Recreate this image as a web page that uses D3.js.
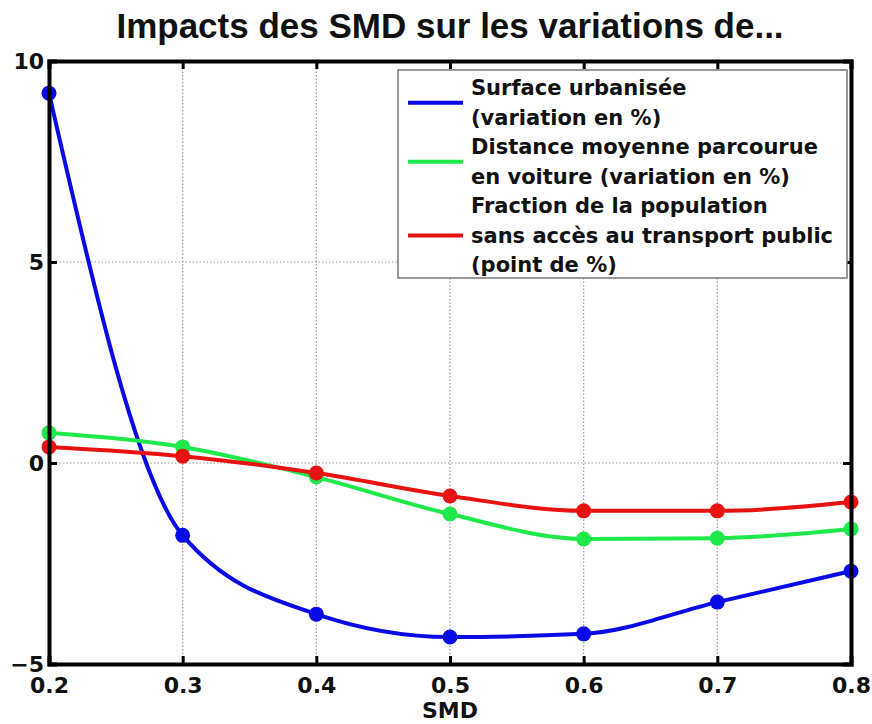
<!DOCTYPE html>
<html>
<head>
<meta charset="utf-8">
<script src="https://cdn.jsdelivr.net/npm/d3@7"></script>
<style>
  body { margin: 0; background: #fff; }
  text { font-family: "DejaVu Sans", sans-serif; font-weight: bold; }
</style>
</head>
<body>
<script>
// chart dimensions
var svgWidth = 872;
var svgHeight = 724;

var margin = { top: 61, right: 21, bottom: 60, left: 49 };
var chartWidth = svgWidth - margin.left - margin.right;
var chartHeight = svgHeight - margin.top - margin.bottom;

// data
var smd = [0.2, 0.3, 0.4, 0.5, 0.6, 0.7, 0.8];
var surface = [9.2, -1.8, -3.76, -4.33, -4.25, -3.46, -2.69];
var distance = [0.75, 0.4, -0.35, -1.27, -1.89, -1.87, -1.64];
var fraction = [0.4, 0.17, -0.25, -0.82, -1.19, -1.19, -0.97];
var xTicks = [0.2, 0.3, 0.4, 0.5, 0.6, 0.7, 0.8];
var yTicks = [-5, 0, 5, 10];
var seriesNames = [
  ["Surface urbanisée", "(variation en %)"],
  ["Distance moyenne parcourue", "en voiture (variation en %)"],
  ["Fraction de la population", "sans accès au transport public", "(point de %)"]
];
var colors = ["#0a0ae6", "#1ee84a", "#e81212"];

var svg = d3.select("body")
  .append("svg")
  .attr("width", svgWidth)
  .attr("height", svgHeight);

var chartGroup = svg.append("g")
  .attr("transform", `translate(${margin.left}, ${margin.top})`);

var x = d3.scaleLinear().domain([0.2, 0.8]).range([0, chartWidth]);
var y = d3.scaleLinear().domain([-5, 10]).range([chartHeight, 0]);

// grid (dotted)
chartGroup.append("g")
  .selectAll("line")
  .data(xTicks.slice(1, -1))
  .enter()
  .append("line")
  .attr("x1", d => x(d)).attr("x2", d => x(d))
  .attr("y1", 0).attr("y2", chartHeight)
  .attr("stroke", "#999")
  .attr("stroke-width", 1.2)
  .attr("stroke-dasharray", "1.5,2");

chartGroup.append("g")
  .selectAll("line")
  .data(yTicks.slice(1, -1))
  .enter()
  .append("line")
  .attr("y1", d => y(d)).attr("y2", d => y(d))
  .attr("x1", 0).attr("x2", chartWidth)
  .attr("stroke", "#999")
  .attr("stroke-width", 1.2)
  .attr("stroke-dasharray", "1.5,2");

// lines + markers
var allSeries = [surface, distance, fraction];
var line = d3.line()
  .x((d, i) => x(smd[i]))
  .y(d => y(d))
  .curve(d3.curveMonotoneX);

allSeries.forEach(function(values, k) {
  chartGroup.append("path")
    .datum(values)
    .attr("d", line)
    .attr("fill", "none")
    .attr("stroke", colors[k])
    .attr("stroke-width", 4);

  chartGroup.selectAll(".dot" + k)
    .data(values)
    .enter()
    .append("circle")
    .attr("cx", (d, i) => x(smd[i]))
    .attr("cy", d => y(d))
    .attr("r", 7.5)
    .attr("fill", colors[k]);
});

// axes (MATLAB style box with inward ticks)
var bottomAxis = d3.axisBottom(x).tickValues(xTicks).tickSize(-8).tickPadding(13).tickFormat(d3.format(".1f"));
var leftAxis = d3.axisLeft(y).tickValues(yTicks).tickSize(-8).tickPadding(5);
var topAxis = d3.axisTop(x).tickValues(xTicks).tickSize(-8).tickFormat("");
var rightAxis = d3.axisRight(y).tickValues(yTicks).tickSize(-8).tickFormat("");

var xAxis = chartGroup.append("g")
  .attr("transform", `translate(0, ${chartHeight})`)
  .call(bottomAxis);
var yAxis = chartGroup.append("g").call(leftAxis);
chartGroup.append("g").call(topAxis);
chartGroup.append("g").attr("transform", `translate(${chartWidth}, 0)`).call(rightAxis);

chartGroup.selectAll(".domain").attr("stroke", "#000").attr("stroke-width", 4);
chartGroup.selectAll(".tick line").attr("stroke", "#000").attr("stroke-width", 3);
chartGroup.selectAll(".tick text")
  .attr("fill", "#111")
  .style("font-size", "22px")
  .style("font-family", "'DejaVu Sans', sans-serif")
  .style("font-weight", "bold");

// x label
chartGroup.append("text")
  .attr("x", x(0.5))
  .attr("y", chartHeight + 54)
  .attr("text-anchor", "middle")
  .style("font-size", "22px")
  .attr("fill", "#111")
  .text("SMD");

// title
svg.append("text")
  .attr("x", 450)
  .attr("y", 38)
  .attr("text-anchor", "middle")
  .style("font-family", "'Liberation Sans', Arial, sans-serif")
  .style("font-size", "35px")
  .attr("fill", "#111")
  .text("Impacts des SMD sur les variations de...");

// legend
var legend = svg.append("g");
legend.append("rect")
  .attr("x", 398).attr("y", 70)
  .attr("width", 449).attr("height", 208)
  .attr("fill", "#fff")
  .attr("stroke", "#777")
  .attr("stroke-width", 1.5);

var lineGap = 29.5;
var rowY = 88;
seriesNames.forEach(function(lines, k) {
  var first = rowY;
  lines.forEach(function(t, j) {
    legend.append("text")
      .attr("x", 471)
      .attr("y", rowY + 7)
      .style("font-size", "21px")
      .attr("fill", "#111")
      .text(t);
    rowY += lineGap;
  });
  var mid = (first + rowY - lineGap) / 2;
  legend.append("line")
    .attr("x1", 408).attr("x2", 463)
    .attr("y1", mid).attr("y2", mid)
    .attr("stroke", colors[k])
    .attr("stroke-width", 4);
});
</script>
</body>
</html>
